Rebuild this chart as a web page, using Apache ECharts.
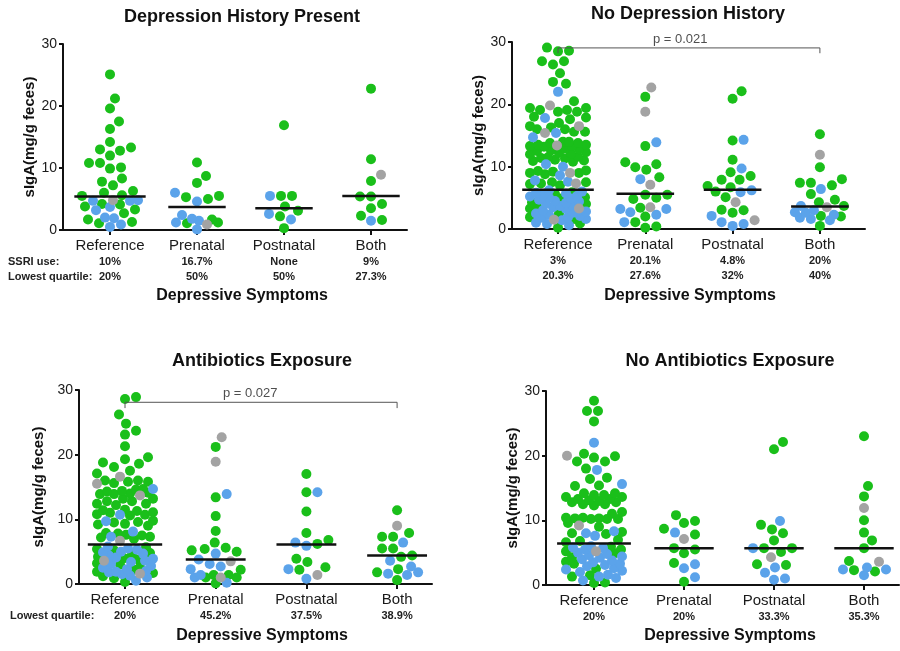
<!DOCTYPE html>
<html><head><meta charset="utf-8">
<script src="https://cdn.jsdelivr.net/npm/echarts@6/dist/echarts.min.js"></script>
<style>html,body{margin:0;padding:0;background:#fff}#c{width:900px;height:651px}</style>
</head><body><div id="c"></div><script>
// ---------- DATA ----------
const categories = ['Reference', 'Prenatal', 'Postnatal', 'Both'];
const yTicks = [0, 10, 20, 30];

// Panel 1: Depression History Present
const p1RefGreen = [25.1,21.2,19.6,17.5,16.3,14.2,13.3,12.8,12.0,13.0,10.8,9.9,10.1,10.8,7.8,7.2,8.3,6.3,6.0,5.5,5.6,4.1,2.7,3.3,3.8,4.2,1.7,1.1,1.3];
const p1RefBlue = [4.7,4.7,4.8,3.7,3.2,2.0,0.5,0.9,1.9];
const p1RefGray = [4.8];
const p1PreGreen = [10.9,8.7,7.6,5.3,5.0,5.5,1.2,1.1,1.7];
const p1PreBlue = [6.0,4.6,2.4,1.8,0.1,1.2,1.5];
const p1PreGray = [0.9];
const p1PostGreen = [16.9,5.5,5.5,3.8,3.1,2.2,0.3];
const p1PostBlue = [5.5,2.6,1.7];
const p1PostGray = [];
const p1BothGreen = [22.8,11.4,7.9,5.4,5.4,4.2,3.5,2.3,1.6];
const p1BothBlue = [1.5];
const p1BothGray = [8.9];
const p1Medians = [5.4, 3.7, 3.5, 5.5];
const p1Ssri = ['10%', '16.7%', 'None', '9%'];
const p1Lowest = ['20%', '50%', '50%', '27.3%'];

// Panel 2: No Depression History
const p2RefGreen = [29.1,28.6,28.5,26.9,26.9,26.4,25.0,23.6,23.3,20.5,
  19.4,19.1,18.8,18.8,19.1,19.4,18.0,17.9,17.6,17.0,16.5,16.3,16.0,15.6,15.6,16.0,
  14.0,13.8,13.5,13.3,13.2,13.3,13.5,13.8,14.0,12.9,12.6,12.3,12.1,12.0,12.2,12.5,12.8,
  11.6,11.4,11.1,10.9,10.8,11.0,11.3,11.5,9.3,9.0,8.8,9.0,9.2,9.4,7.5,7.3,7.0,7.2,7.5,
  5.9,5.6,5.1,4.9,4.3,4.0,3.6,3.3,2.5,1.9,1.6,0.9,0.2];
const p2RefBlue = [22.0,17.8,15.4,14.7,10.4,10.0,8.6,7.8,7.6,6.2,6.0,5.8,5.7,5.5,5.3,5.2,5.0,4.9,4.7,4.5,4.4,4.2,4.1,3.9,3.7,3.5,3.2,3.0,2.8,2.6,2.5,2.3,2.1,1.9,1.8,1.6,1.4,1.0,0.8,0.6];
const p2RefGray = [19.8,16.5,15.4,13.4,9.0,7.3,3.3,1.5];
const p2PreGreen = [21.2,13.3,10.4,9.5,9.9,10.7,8.3,5.5,4.8,5.0,5.5,3.4,2.0,1.1,0.2,0.4];
const p2PreBlue = [13.9,8.0,3.2,2.3,2.7,3.2,1.1];
const p2PreGray = [22.7,18.8,7.1,3.5];
const p2PostGreen = [20.9,22.1,14.2,11.1,9.1,7.9,7.9,8.5,6.7,6.0,6.9,5.1,3.0,2.6,3.1];
const p2PostBlue = [14.3,9.7,5.9,6.2,2.1,1.1,0.5,0.8];
const p2PostGray = [4.3,1.4];
const p2BothGreen = [15.2,9.9,7.0,7.4,7.4,8.0,5.6,4.3,4.7,3.7,2.0,2.1,0.5];
const p2BothBlue = [6.4,3.7,2.3,2.7,3.0,2.6,1.4,1.6,1.8];
const p2BothGray = [11.9,3.5];
const p2Medians = [6.3, 5.65, 6.3, 3.6];
const p2Ssri = ['3%', '20.1%', '4.8%', '20%'];
const p2Lowest = ['20.3%', '27.6%', '32%', '40%'];
const p2Bracket = { from: 1, to: 4, level: 29.05, drop: 0.85, labelAt: 2.4, text: 'p = 0.021' };

// Panel 3: Antibiotics Exposure
const p3RefGreen = [28.9,28.6,26.2,24.8,23.7,23.1,21.3,19.3,18.6,18.1,18.8,19.6,
  17.1,17.5,16.0,15.8,15.8,16.0,15.6,14.6,14.3,14.0,13.9,13.9,14.1,14.4,14.7,
  13.2,12.8,12.4,12.2,12.4,12.8,13.2,11.4,11.1,10.8,10.6,10.7,11.0,11.3,11.5,
  9.8,9.5,9.2,9.0,9.3,9.6,7.8,7.5,7.2,7.0,7.3,7.6,7.9,
  5.7,5.4,5.2,4.8,4.6,4.2,4.0,3.8,3.2,3.0,2.6,2.2,1.9,1.7,1.2,0.9,0.3];
const p3RefBlue = [14.7,10.7,9.7,8.1,7.3,5.8,5.5,5.3,5.0,4.9,4.7,4.4,4.1,3.9,3.6,3.4,3.1,2.8,2.5,2.3,2.0,1.9,1.8,1.5,1.3,1.0,0.5];
const p3RefGray = [16.6,15.5,13.7,6.7,3.6,1.6];
const p3PreGreen = [21.2,13.4,10.5,8.2,5.6,5.2,5.0,5.4,6.4,2.2,1.4,1.4,0.1,1.0,1.0];
const p3PreBlue = [13.9,4.7,3.8,3.1,2.3,2.7,1.0,0.2,1.4];
const p3PreGray = [22.7,18.9,3.5,1.0];
const p3PostGreen = [17.0,14.2,11.2,7.9,6.2,6.8,3.9,3.4,2.6,2.2];
const p3PostBlue = [14.2,6.4,5.9,0.8,2.3];
const p3PostGray = [1.4];
const p3BothGreen = [11.4,7.3,7.3,7.9,5.5,5.5,4.4,4.2,1.8,0.6,2.3];
const p3BothBlue = [6.4,3.6,2.7,1.6,1.4,1.8];
const p3BothGray = [9.0];
const p3Medians = [6.1, 3.8, 6.1, 4.4];
const p3Lowest = ['20%', '45.2%', '37.5%', '38.9%'];
const p3Bracket = { from: 1, to: 4, level: 28.1, drop: 0.9, labelAt: 2.38, text: 'p = 0.027' };

// Panel 4: No Antibiotics Exposure
const p4RefGreen = [28.5,26.9,26.9,25.3,20.3,19.9,19.1,19.1,19.7,18.0,16.4,16.6,15.3,15.4,
  14.2,13.9,13.6,13.3,13.1,13.3,13.6,13.9,14.2,13.0,12.8,12.5,12.3,12.5,12.8,
  11.3,11.0,10.4,10.3,10.2,10.2,10.2,10.3,10.4,9.6,9.0,8.2,7.9,8.0,6.8,7.0,6.6,
  5.9,5.5,5.2,4.9,4.3,3.6,3.3,2.5,1.5,1.3,0.4,0.3];
const p4RefBlue = [22.0,17.8,15.6,8.3,8.0,7.6,6.0,5.8,5.7,5.5,5.0,4.8,4.6,4.4,4.2,4.0,3.8,3.5,3.3,3.1,2.9,2.6,2.4,2.2,2.0,1.6,1.3,1.1,0.7];
const p4RefGray = [20.0,9.2,5.2];
const p4PreGreen = [10.8,8.7,9.6,9.9,7.8,5.7,4.9,5.5,3.4,0.5];
const p4PreBlue = [8.1,3.2,2.6,1.2];
const p4PreGray = [7.1];
const p4PostGreen = [22.1,21.0,9.3,8.6,8.0,6.9,5.1,5.7,5.7,3.1,3.2];
const p4PostBlue = [9.9,5.7,2.7,1.9,0.8,1.0];
const p4PostGray = [4.3];
const p4BothGreen = [23.0,15.3,13.7,10.0,8.1,6.9,5.7,3.7,2.3,2.1];
const p4BothBlue = [2.4,1.5,2.4,2.7];
const p4BothGray = [11.9,3.6];
const p4Medians = [6.4, 5.7, 5.7, 5.7];
const p4Lowest = ['20%', '20%', '33.3%', '35.3%'];

// ---------- STYLE / LAYOUT ----------
const FONT = '"Liberation Sans", Arial, Helvetica, sans-serif';
const COLORS = { green: '#1abf1a', blue: '#5ba3ea', gray: '#a3a3a3' };
const DOT = 10;

const panels = [
  { title: 'Depression History Present',
    groups: [[p1RefGreen,p1RefBlue,p1RefGray],[p1PreGreen,p1PreBlue,p1PreGray],[p1PostGreen,p1PostBlue,p1PostGray],[p1BothGreen,p1BothBlue,p1BothGray]],
    medians: p1Medians, rows: [p1Ssri, p1Lowest], rowTitles: ['SSRI use:', 'Lowest quartile:'], bracket: null,
    L: { left: 63, top: 44, width: 344, height: 186, refX: 110, spacing: 87, yNameGap: 21, titleX: 242, titleY: 17, xNameX: 242, xNameY: 296 } },
  { title: 'No Depression History',
    groups: [[p2RefGreen,p2RefBlue,p2RefGray],[p2PreGreen,p2PreBlue,p2PreGray],[p2PostGreen,p2PostBlue,p2PostGray],[p2BothGreen,p2BothBlue,p2BothGray]],
    medians: p2Medians, rows: [p2Ssri, p2Lowest], rowTitles: null, bracket: p2Bracket,
    L: { left: 512, top: 42, width: 353, height: 187, refX: 558, spacing: 87.3, yNameGap: 22, titleX: 688, titleY: 14, xNameX: 690, xNameY: 296 } },
  { title: 'Antibiotics Exposure',
    groups: [[p3RefGreen,p3RefBlue,p3RefGray],[p3PreGreen,p3PreBlue,p3PreGray],[p3PostGreen,p3PostBlue,p3PostGray],[p3BothGreen,p3BothBlue,p3BothGray]],
    medians: p3Medians, rows: [p3Lowest], rowTitles: ['Lowest quartile:'], bracket: p3Bracket,
    L: { left: 79, top: 390, width: 353, height: 194, refX: 125, spacing: 90.7, yNameGap: 33, titleX: 262, titleY: 361, xNameX: 262, xNameY: 636 } },
  { title: 'No Antibiotics Exposure',
    groups: [[p4RefGreen,p4RefBlue,p4RefGray],[p4PreGreen,p4PreBlue,p4PreGray],[p4PostGreen,p4PostBlue,p4PostGray],[p4BothGreen,p4BothBlue,p4BothGray]],
    medians: p4Medians, rows: [p4Lowest], rowTitles: null, bracket: null,
    L: { left: 546, top: 391, width: 353, height: 194, refX: 594, spacing: 90, yNameGap: 26, titleX: 730, titleY: 361, xNameX: 730, xNameY: 636 } }
];

// beeswarm: computes horizontal offsets (px) from values so dots do not collide
function swarm(items, pxY, maxHalf, D) {
  const sorted = items.slice().sort((a, b) => a.v - b.v);
  const placed = [];
  for (const it of sorted) {
    const y = it.v * pxY;
    let best = 0, bestScore = -1;
    for (let k = 0; k <= 2 * maxHalf; k++) {
      const off = (k % 2 === 1 ? 1 : -1) * Math.ceil(k / 2);
      let minD = Infinity;
      for (const p of placed) {
        const dy = p.y - y;
        if (Math.abs(dy) >= D) continue;
        const d = Math.hypot(p.x - off, dy);
        if (d < minD) minD = d;
      }
      if (minD >= D) { best = off; bestScore = Infinity; break; }
      if (minD > bestScore) { bestScore = minD; best = off; }
    }
    placed.push({ x: best, y: y, c: it.c, v: it.v });
  }
  return placed;
}

const option = { animation: false, backgroundColor: '#fff', textStyle: { fontFamily: FONT },
  grid: [], xAxis: [], yAxis: [], series: [], graphic: [] };

panels.forEach((P, pi) => {
  const L = P.L;
  const xmin = 1 - (L.refX - L.left) / L.spacing;
  const xmax = xmin + L.width / L.spacing;
  const pxX = L.spacing, pxY = L.height / 30;
  option.grid.push({ left: L.left, top: L.top, width: L.width, height: L.height, containLabel: false, outerBoundsMode: 'none' });
  const rows = P.rows;
  option.xAxis.push({ gridIndex: pi, type: 'value', min: xmin, max: xmax,
    axisLine: { show: true, onZero: false, lineStyle: { color: '#111', width: 2 } },
    axisTick: { show: true, customValues: [1, 2, 3, 4], length: 5, lineStyle: { color: '#111', width: 2 } },
    splitLine: { show: false },
    axisLabel: { customValues: [1, 2, 3, 4], margin: 7, interval: 0, hideOverlap: false,
      formatter: v => { const i = Math.round(v) - 1; let s = '{c|' + categories[i] + '}'; rows.forEach(r => { s += '\n{p|' + r[i] + '}'; }); return s; },
      rich: { c: { fontSize: 15, color: '#1a1a1a', lineHeight: 17, fontFamily: FONT },
              p: { fontSize: 11, fontWeight: 'bold', color: '#222', lineHeight: 15, fontFamily: FONT } } } });
  option.yAxis.push({ gridIndex: pi, type: 'value', min: yTicks[0], max: yTicks[yTicks.length - 1], interval: 10,
    axisLine: { show: true, lineStyle: { color: '#111', width: 2 } },
    axisTick: { show: true, length: 4, lineStyle: { color: '#111', width: 2 } },
    splitLine: { show: false },
    axisLabel: { fontSize: 14, color: '#1a1a1a', margin: 6, fontFamily: FONT },
    name: 'sIgA(mg/g feces)', nameLocation: 'middle', nameGap: L.yNameGap,
    nameTextStyle: { fontSize: 15, fontWeight: 'bold', color: '#111', fontFamily: FONT } });

  const pts = { green: [], blue: [], gray: [] };
  P.groups.forEach((g, gi) => {
    const items = [];
    g[0].forEach(v => items.push({ v, c: 'green' }));
    g[1].forEach(v => items.push({ v, c: 'blue' }));
    g[2].forEach(v => items.push({ v, c: 'gray' }));
    const maxHalf = gi === 0 ? 28 : 25;
    swarm(items, pxY, maxHalf, DOT + 1).forEach(p => pts[p.c].push([gi + 1 + p.x / pxX, p.v]));
  });
  ['green', 'blue', 'gray'].forEach(c => {
    option.series.push({ type: 'scatter', xAxisIndex: pi, yAxisIndex: pi, data: pts[c], symbol: 'circle',
      symbolSize: DOT, itemStyle: { color: COLORS[c], opacity: 1 }, z: 2, silent: true });
  });
  P.medians.forEach((m, gi) => {
    const h = gi === 0 ? 0.41 : 0.33;
    option.series.push({ type: 'line', xAxisIndex: pi, yAxisIndex: pi, data: [[gi + 1 - h, m], [gi + 1 + h, m]],
      showSymbol: false, symbol: 'none', lineStyle: { color: '#111', width: 2.5 }, z: 5, silent: true });
  });
  if (P.bracket) {
    const B = P.bracket;
    option.series.push({ type: 'line', xAxisIndex: pi, yAxisIndex: pi,
      data: [[B.from, B.level - B.drop], [B.from, B.level], [B.to, B.level], [B.to, B.level - B.drop]],
      showSymbol: false, symbol: 'none', lineStyle: { color: '#555', width: 1 }, z: 4, silent: true });
    option.series.push({ type: 'scatter', xAxisIndex: pi, yAxisIndex: pi, data: [[B.labelAt, B.level]],
      symbolSize: 0, silent: true, z: 4,
      label: { show: true, position: 'top', distance: 2, formatter: B.text, fontSize: 13, color: '#222', fontFamily: FONT } });
  }
  option.graphic.push({ type: 'text', x: L.titleX, y: L.titleY,
    style: { text: P.title, font: 'bold 18px ' + FONT, fill: '#111', textAlign: 'center', textVerticalAlign: 'middle' } });
  option.graphic.push({ type: 'text', x: L.xNameX, y: L.xNameY,
    style: { text: 'Depressive Symptoms', font: 'bold 16px ' + FONT, fill: '#111', textAlign: 'center', textVerticalAlign: 'middle' } });
  if (P.rowTitles) {
    const axisY = L.top + L.height;
    P.rowTitles.forEach((t, ri) => {
      option.graphic.push({ type: 'text', x: pi === 0 ? 8 : 10, y: axisY + 7 + 17 + 7.5 + ri * 15,
        style: { text: t, font: 'bold 11px ' + FONT, fill: '#222', textAlign: 'left', textVerticalAlign: 'middle' } });
    });
  }
});

const chart = echarts.init(document.getElementById('c'), null, { renderer: 'canvas' });
chart.setOption(option);
</script></body></html>
